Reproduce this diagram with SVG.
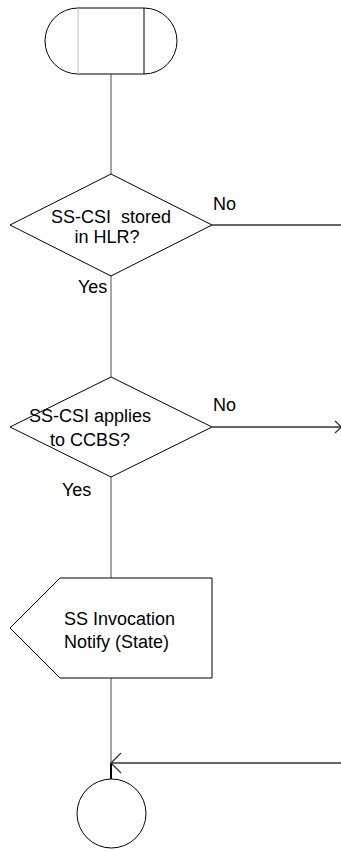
<svg xmlns="http://www.w3.org/2000/svg" width="341" height="851" viewBox="0 0 341 851">
<style>
.shape{fill:#fff;stroke:#000;stroke-width:1}
.flow{fill:none;stroke:#777;stroke-width:1.3}
.hflow{fill:none;stroke:#333;stroke-width:1.3}
.t{font-family:"Liberation Sans",Arial,sans-serif;font-size:18px;fill:#000}
</style>
<rect width="341" height="851" fill="#fff"/>
<g id="connectors">
<line class="flow" x1="111" y1="74" x2="111" y2="174"/>
<line class="flow" x1="111" y1="276" x2="111" y2="377"/>
<line class="flow" x1="111" y1="477" x2="111" y2="578"/>
<line class="flow" x1="111" y1="678" x2="111" y2="763"/>
<line x1="111" y1="763" x2="111" y2="779" stroke="#000" stroke-width="2"/>
<line class="hflow" x1="212" y1="225" x2="341" y2="225"/>
<line class="hflow" x1="212" y1="427" x2="341" y2="427"/>
<polyline class="hflow" points="335,421 341.5,427 335,433"/>
<line class="hflow" x1="111" y1="763" x2="341" y2="763"/>
<polyline class="hflow" points="121,753 111,763 121,773"/>
<text class="t" x="213" y="210">No</text>
<text class="t" x="78" y="293">Yes</text>
<text class="t" x="213" y="411">No</text>
<text class="t" x="62" y="496">Yes</text>
</g>
<g id="start">
<path class="shape" d="M78,8 H144 A33,33 0 0 1 144,74 H78 A33,33 0 0 1 78,8 Z"/>
<line x1="78" y1="8" x2="78" y2="74" stroke="#bbb" stroke-width="1"/>
<line x1="144" y1="8" x2="144" y2="74" stroke="#000" stroke-width="1"/>
</g>
<g id="decision1">
<polygon class="shape" points="111,174 212,225 111,276 10,225"/>
<text class="t" x="111" y="223" text-anchor="middle" xml:space="preserve">SS-CSI  stored</text>
<text class="t" x="107" y="243" text-anchor="middle">in HLR?</text>
</g>
<g id="decision2">
<polygon class="shape" points="111,377 212,427 111,477 10,427"/>
<text class="t" x="90" y="422" text-anchor="middle">SS-CSI applies</text>
<text class="t" x="90" y="446" text-anchor="middle">to CCBS?</text>
</g>
<g id="signal">
<polygon class="shape" points="60,578 212,578 212,678 60,678 10,628"/>
<text class="t" x="64" y="625">SS Invocation</text>
<text class="t" x="64" y="648">Notify (State)</text>
</g>
<g id="end">
<circle class="shape" cx="111.5" cy="813.5" r="34.5"/>
</g>
</svg>
